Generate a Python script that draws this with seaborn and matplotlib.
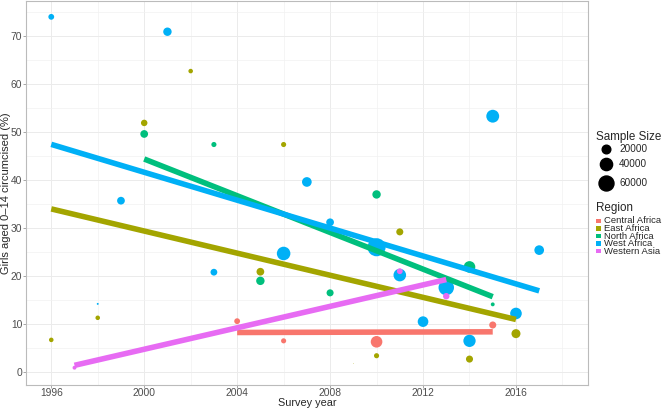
import numpy as np
import pandas as pd
import matplotlib.pyplot as plt
from matplotlib.lines import Line2D
from matplotlib.patches import Rectangle
import seaborn as sns

# Region names and ggplot-style hue colours
regions = ["Central Africa", "East Africa", "North Africa", "West Africa", "Western Asia"]
colors = ["#F8766D", "#A3A500", "#00BF7D", "#00B0F6", "#E76BF3"]

# Survey points (year, % girls 0-14 circumcised, sample size) per region
central_year = [2004, 2006, 2010, 2015]
central_pct = [10.6, 6.5, 6.3, 9.8]
central_n = [9000, 7000, 36000, 13300]

east_year = [1996, 1998, 2000, 2002, 2005, 2006, 2009, 2010, 2011, 2014, 2016]
east_pct = [6.7, 11.3, 51.9, 62.7, 20.9, 47.4, 1.8, 3.4, 29.2, 2.7, 8.0]
east_n = [5500, 5500, 11200, 5500, 16000, 7000, 100, 7000, 13300, 13300, 21600]

north_year = [2000, 2003, 2005, 2008, 2010, 2014, 2015]
north_pct = [49.6, 47.4, 19.0, 16.5, 37.0, 21.9, 14.1]
north_n = [16000, 7000, 18900, 13300, 18900, 36000, 4000]

west_year = [1996, 1998, 1999, 2001, 2003, 2006, 2007, 2008, 2010, 2011, 2012, 2013, 2014, 2015, 2016, 2017]
west_pct = [74.0, 14.2, 35.7, 70.9, 20.8, 24.7, 39.6, 31.2, 26.0, 20.2, 10.5, 17.6, 6.5, 53.3, 12.2, 25.4]
west_n = [9000, 1000, 16000, 18900, 12300, 49000, 25000, 16000, 87400, 42300, 30300, 64000, 40300, 44200, 36000, 25000]

wasia_year = [1997, 2011, 2013]
wasia_pct = [0.9, 21.0, 15.8]
wasia_n = [4000, 9000, 11200]

legend_sizes = [20000, 40000, 60000]

frames = []
for reg, yr, pc, n in zip(regions,
                          [central_year, east_year, north_year, west_year, wasia_year],
                          [central_pct, east_pct, north_pct, west_pct, wasia_pct],
                          [central_n, east_n, north_n, west_n, wasia_n]):
    frames.append(pd.DataFrame({"Region": reg, "Year": yr, "Pct": pc, "N": n}))
df = pd.concat(frames, ignore_index=True)

palette = dict(zip(regions, colors))
max_area = 194.0
norm_max = 100000

sns.set_style("white")
plt.rcParams['font.family'] = ['Liberation Sans', 'DejaVu Sans']

fig = plt.figure(figsize=(6.69, 4.08), dpi=100)
W, H = 669, 408
ax = fig.add_axes([25.7 / W, 1 - 385 / H, (588 - 25.7) / W, (385 - 1) / H])

sns.scatterplot(data=df, x="Year", y="Pct", hue="Region", palette=palette,
                size="N", sizes=(0, max_area), size_norm=(0, norm_max),
                linewidth=0, alpha=1, legend=False, ax=ax)

for reg in regions:
    sub = df[df["Region"] == reg]
    sns.regplot(data=sub, x="Year", y="Pct", scatter=False, ci=None,
                color=palette[reg], line_kws={"lw": 4.0, "solid_capstyle": "butt"}, ax=ax)

ax.set_xlim(1994.9, 2019.1)
ax.set_ylim(-2.7, 77.3)
ax.set_xticks([1996, 2000, 2004, 2008, 2012, 2016])
ax.set_xticks([1998, 2002, 2006, 2010, 2014, 2018], minor=True)
ax.set_yticks(range(0, 80, 10))
ax.set_yticks(range(5, 80, 10), minor=True)
ax.grid(True, which="major", color="#EBEBEB", lw=0.7)
ax.grid(True, which="minor", color="#F2F2F2", lw=0.5)
ax.set_axisbelow(True)
for s in ax.spines.values():
    s.set_color("#BBBBBB")
    s.set_linewidth(0.8)
ax.tick_params(which="major", length=2, width=0.6, color="#999999", pad=0.5,
               labelsize=7.4, labelcolor="#4D4D4D", left=True, bottom=True)
ax.tick_params(which="minor", length=0)

ax.set_xlabel("Survey year", fontsize=7.8)
ax.set_ylabel("Girls aged 0\u201314 circumcised (%)", fontsize=8)
ax.xaxis.label.set_verticalalignment("center")
ax.xaxis.set_label_coords(0.5, -0.048)
ax.yaxis.set_label_coords(-0.027, 0.5)

# legend: sample size
fig.text(596 / W, 1 - 137 / H, "Sample Size", fontsize=8.4, va="center", ha="left")
for val, py in zip(legend_sizes, [149, 164, 183.5]):
    d = np.sqrt(max_area * val / norm_max)
    fig.add_artist(Line2D([606 / W], [1 - py / H], marker="o", markersize=d,
                          color="black", linestyle="", transform=fig.transFigure))
    fig.text(619 / W, 1 - py / H, str(val), fontsize=7.2, va="center", ha="left")

# legend: region
fig.text(596 / W, 1 - 208.5 / H, "Region", fontsize=8.4, va="center", ha="left")
for reg, py in zip(regions, [221, 228.5, 236, 243.5, 251]):
    fig.add_artist(Rectangle((596 / W, 1 - (py + 2.3) / H), 5 / W, 4.6 / H,
                             color=palette[reg], transform=fig.transFigure, lw=0))
    fig.text(603.5 / W, 1 - py / H, reg, fontsize=6.8, va="center", ha="left")

fig.savefig("out.png", dpi=100)
